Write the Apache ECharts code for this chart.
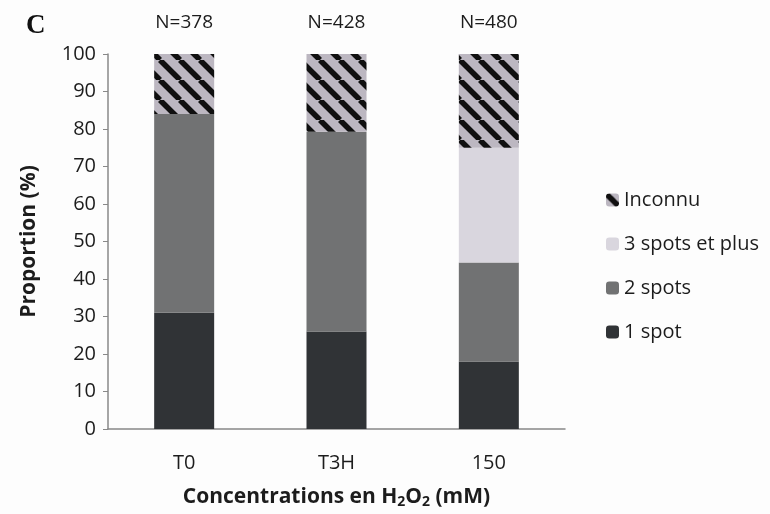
<!DOCTYPE html>
<html>
<head>
<meta charset="utf-8">
<script src="https://cdn.jsdelivr.net/npm/echarts@6/dist/echarts.min.js"></script>
<style>
html,body{margin:0;padding:0;background:#fdfdfd;}
#chart{width:770px;height:514px;}
</style>
</head>
<body>
<div id="chart"></div>
<script>
var categories = ['T0', 'T3H', '150'];
var nLabels = ['N=378', 'N=428', 'N=480'];
var oneSpot = [31, 26, 18];
var twoSpots = [53, 53.3, 26.4];
var threeSpots = [0, 0, 30.6];
var inconnu = [16, 20.7, 25];
var yTicks = [0, 10, 20, 30, 40, 50, 60, 70, 80, 90, 100];

function makeStripe() {
  var s = 20;
  var c = document.createElement('canvas');
  c.width = s; c.height = s;
  var ctx = c.getContext('2d');
  ctx.fillStyle = '#bcb7c1';
  ctx.fillRect(0, 0, s, s);
  ctx.strokeStyle = '#101010';
  ctx.lineWidth = 5.5;
  [-s, 0, s].forEach(function (x0) {
    ctx.beginPath();
    ctx.moveTo(x0, 0);
    ctx.lineTo(x0 + s, s);
    ctx.stroke();
  });
  return c;
}

var font = '"Open Sans", sans-serif';
var chart = echarts.init(document.getElementById('chart'), null, {renderer: 'canvas'});
var txt = '#1c1c1c';

chart.setOption({
  backgroundColor: '#fdfdfd',
  animation: false,
  title: {
    text: 'C', left: 21, top: 8,
    textStyle: {fontFamily: '"Liberation Serif", "DejaVu Serif", serif', fontWeight: 'bold', fontSize: 27, color: '#111'}
  },
  grid: {left: 108, right: 205, top: 54, bottom: 84},
  legend: {
    orient: 'vertical', left: 601, top: 185,
    itemWidth: 13, itemHeight: 13, itemGap: 24,
    data: ['Inconnu', '3 spots et plus', '2 spots', '1 spot'],
    textStyle: {fontFamily: font, fontSize: 20, color: txt},
    selectedMode: false
  },
  xAxis: {
    type: 'category', data: categories,
    axisLine: {lineStyle: {color: '#888', width: 1.5}},
    axisTick: {length: 5, lineStyle: {color: '#888'}},
    axisLabel: {margin: 24, fontFamily: font, fontSize: 20, color: txt},
    name: '{n|Concentrations en H}{s|2}{n|O}{s|2}{n| (mM)}',
    nameLocation: 'middle', nameGap: 56,
    nameTextStyle: {
      rich: {
        n: {fontFamily: font, fontSize: 21, fontWeight: 'bold', color: txt},
        s: {fontFamily: font, fontSize: 14, fontWeight: 'bold', color: txt, padding: [10, 0, 0, 0]}
      }
    }
  },
  yAxis: {
    type: 'value', min: 0, max: 100, interval: 10,
    splitLine: {show: false},
    axisLine: {show: true, lineStyle: {color: '#888', width: 1.5}},
    axisTick: {show: true, length: 5, lineStyle: {color: '#888'}},
    axisLabel: {margin: 12, fontFamily: font, fontSize: 20, color: txt,
      formatter: function (v) { return yTicks.indexOf(v) >= 0 ? String(v) : ''; }},
    name: 'Proportion (%)', nameLocation: 'middle', nameGap: 68,
    nameTextStyle: {fontFamily: font, fontSize: 21, fontWeight: 'bold', color: txt}
  },
  series: [
    {name: '1 spot', type: 'bar', stack: 'a', barWidth: 60, data: oneSpot, itemStyle: {color: '#303336'}},
    {name: '2 spots', type: 'bar', stack: 'a', data: twoSpots, itemStyle: {color: '#717273'}},
    {name: '3 spots et plus', type: 'bar', stack: 'a', data: threeSpots, itemStyle: {color: '#d9d6de'}},
    {name: 'Inconnu', type: 'bar', stack: 'a', data: inconnu,
      itemStyle: {color: {image: makeStripe(), repeat: 'repeat'}},
      label: {show: true, position: 'top', distance: 22, fontFamily: font, fontSize: 19, color: txt,
        formatter: function (p) { return nLabels[p.dataIndex]; }}}
  ]
});
</script>
</body>
</html>
